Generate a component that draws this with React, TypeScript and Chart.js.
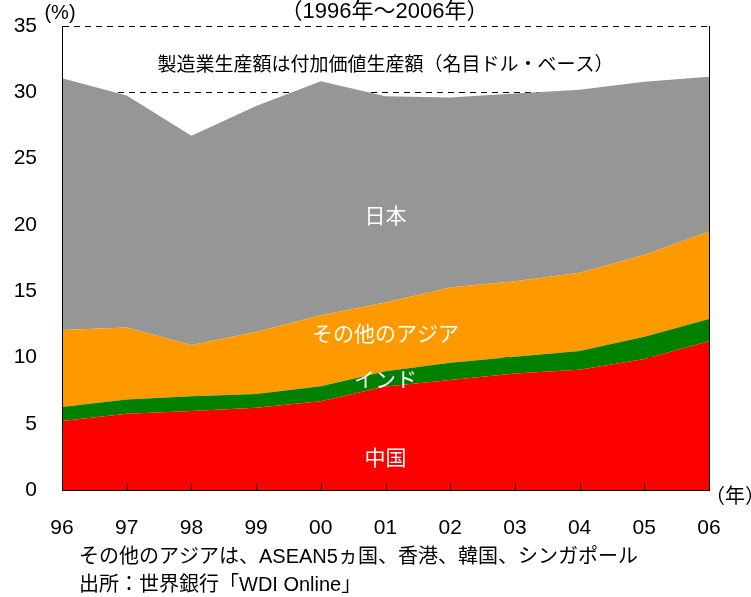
import React, { useEffect, useRef } from "react";
import { Chart, registerables } from "chart.js";

Chart.register(...registerables);

// ---- data (% share of world manufacturing value added) ----
const years = ["96", "97", "98", "99", "00", "01", "02", "03", "04", "05", "06"];
const china = [5.2, 5.75, 5.95, 6.2, 6.7, 7.8, 8.3, 8.78, 9.07, 9.88, 11.22];
const india = [1.06, 1.07, 1.12, 1.05, 1.13, 1.16, 1.3, 1.27, 1.41, 1.68, 1.68];
const otherAsia = [5.81, 5.43, 3.86, 4.67, 5.35, 5.18, 5.68, 5.7, 5.9, 6.16, 6.6];
const japan = [18.98, 17.5, 15.79, 17.04, 17.66, 15.57, 14.32, 14.15, 13.82, 13.08, 11.67];

const seriesNames = ["中国", "インド", "その他のアジア", "日本"];
const seriesColors = ["#FF0000", "#008000", "#FF9900", "#969696"];

const yMin = 0;
const yMax = 35;
const yStep = 5;

const titleText = "（1996年～2006年）";
const unitText = "(%)";
const xUnitText = "（年）";
const noteText = "製造業生産額は付加価値生産額（名目ドル・ベース）";
const footer1 = "その他のアジアは、ASEAN5ヵ国、香港、韓国、シンガポール";
const footer2 = "出所：世界銀行「WDI Online」";

// in-plot labels: [text, category index, y value, color]
const areaLabels: [string, number, number, string][] = [
  [noteText, 5, 32.0, "#000000"],
  ["日本", 5, 20.6, "#FFFFFF"],
  ["その他のアジア", 5, 11.7, "#FFFFFF"],
  ["インド", 5, 8.2, "#FFFFFF"],
  ["中国", 5, 2.3, "#FFFFFF"],
];

const FONT = '"Liberation Sans", "Noto Sans CJK JP", Arial, sans-serif';

const overlayPlugin = {
  id: "overlay",
  afterDraw(chart: any) {
    const { ctx, chartArea, scales } = chart;
    const xs = scales.x;
    const ys = scales.y;
    ctx.save();
    // right border
    ctx.strokeStyle = "#000";
    ctx.lineWidth = 1;
    ctx.setLineDash([]);
    const rx = Math.round(chartArea.right) + 0.5;
    ctx.beginPath();
    ctx.moveTo(rx, chartArea.top);
    ctx.lineTo(rx, chartArea.bottom + 0.5);
    ctx.stroke();
    // inside tick marks on x axis
    const by = Math.round(chartArea.bottom) + 0.5;
    years.forEach((_, i) => {
      const x = Math.round(xs.getPixelForValue(i)) + 0.5;
      ctx.beginPath();
      ctx.moveTo(x, by);
      ctx.lineTo(x, by - 7);
      ctx.stroke();
    });
    // area labels
    ctx.textAlign = "center";
    ctx.textBaseline = "middle";
    areaLabels.forEach(([t, xi, yv, c], k) => {
      ctx.fillStyle = c;
      ctx.font = `${k === 0 ? 19 : 21}px ${FONT}`;
      ctx.fillText(t, xs.getPixelForValue(xi), ys.getPixelForValue(yv));
    });
    // title
    ctx.fillStyle = "#000";
    ctx.font = `22px ${FONT}`;
    ctx.fillText(titleText, (chartArea.left + chartArea.right) / 2 - 1, 12);
    // unit
    ctx.font = `20px ${FONT}`;
    ctx.fillText(unitText, 60, 13);
    // x unit
    ctx.textAlign = "left";
    ctx.font = `20px ${FONT}`;
    ctx.fillText(xUnitText, 705, 497);
    // footers
    ctx.fillText(footer1, 79, 557);
    ctx.fillText(footer2, 79, 585);
    ctx.restore();
  },
};

export default function App() {
  const ref = useRef<HTMLCanvasElement | null>(null);
  useEffect(() => {
    if (!ref.current) return;
    const data = [china, india, otherAsia, japan];
    const chart = new Chart(ref.current, {
      type: "line",
      data: {
        labels: years,
        datasets: data.map((d, i) => ({
          label: seriesNames[i],
          data: d,
          backgroundColor: seriesColors[i],
          borderColor: seriesColors[i],
          borderWidth: 0,
          pointRadius: 0,
          tension: 0,
          fill: i === 0 ? "origin" : "-1",
        })),
      },
      options: {
        animation: false,
        responsive: false,
        devicePixelRatio: 1,
        layout: { padding: { left: 0, right: 42, top: 26, bottom: 0 } },
        plugins: { legend: { display: false }, tooltip: { enabled: false }, title: { display: false } },
        scales: {
          x: {
            type: "category",
            offset: false,
            grid: { display: false, drawTicks: false },
            border: { display: true, color: "#000", width: 1, z: 1 },
            ticks: {
              color: "#000",
              font: { family: FONT, size: 21 },
              padding: 26,
              maxRotation: 0,
              autoSkip: false,
            },
            afterFit: (s: any) => {
              s.height = 107;
              s.paddingLeft = 0;
              s.paddingRight = 0;
            },
          },
          y: {
            stacked: true,
            min: yMin,
            max: yMax,
            grid: { color: "#000", lineWidth: 1, drawTicks: false },
            border: { display: true, color: "#000", width: 1, dash: [6, 5], z: 1 },
            ticks: {
              stepSize: yStep,
              color: "#000",
              font: { family: FONT, size: 21 },
              padding: 25,
            },
            afterFit: (s: any) => {
              s.width = 62;
              s.paddingTop = 0;
              s.paddingBottom = 0;
            },
          },
        },
      },
      plugins: [overlayPlugin],
    });
    return () => chart.destroy();
  }, []);
  return (
    <div style={{ position: "absolute", left: 0, top: 0, width: 751, height: 597, background: "#fff" }}>
      <canvas ref={ref} width={751} height={597} style={{ display: "block", width: 751, height: 597 }} />
    </div>
  );
}
